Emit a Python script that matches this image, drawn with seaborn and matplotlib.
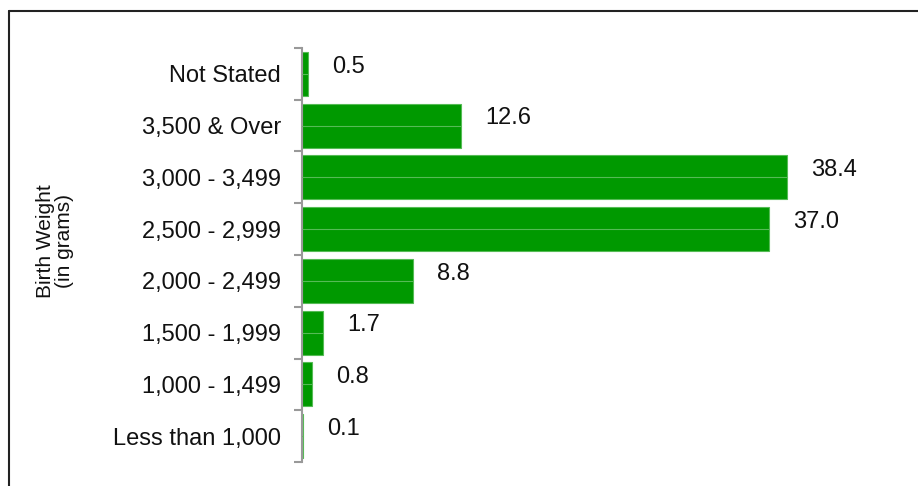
import numpy as np
import pandas as pd
import matplotlib
matplotlib.use("Agg")
import matplotlib.pyplot as plt
import seaborn as sns
from matplotlib.lines import Line2D

categories = ["Not Stated", "3,500 & Over", "3,000 - 3,499", "2,500 - 2,999",
              "2,000 - 2,499", "1,500 - 1,999", "1,000 - 1,499", "Less than 1,000"]
percents = [0.5, 12.6, 38.4, 37.0, 8.8, 1.7, 0.8, 0.1]
labels = ["0.5", "12.6", "38.4", "37.0", "8.8", "1.7", "0.8", "0.1"]

df = pd.DataFrame({"weight": categories, "pct": percents})

sns.set_style("white")
plt.rcParams['font.family'] = ['Liberation Sans', 'DejaVu Sans']

fig = plt.figure(figsize=(9.18, 4.86), dpi=100)
ax = fig.add_axes([302 / 918, 1 - 462 / 486, 568 / 918, 414 / 486])

sns.barplot(data=df, x="pct", y="weight", orient="h", color="#009900",
            saturation=1, width=0.85, edgecolor="#55bb55", linewidth=0.8, ax=ax)

# light line through the middle of each bar
ax.hlines(np.arange(len(categories)), 0, percents, color="#55bb55", lw=0.8, zorder=3)

for i, (v, s) in enumerate(zip(percents, labels)):
    ax.annotate(s, (v, i - 0.14), xytext=(24, 0), textcoords="offset pixels",
                ha="left", va="center", fontsize=17, color="#111111")

ax.set_xlim(0, 45)
ax.set_ylim(len(categories) - 0.5, -0.5)
ax.set_xlabel("")
ax.set_ylabel("")
ax.set_xticks([])
for sp in ["top", "right", "bottom"]:
    ax.spines[sp].set_visible(False)
ax.spines["left"].set_color("#999999")
ax.spines["left"].set_linewidth(1.5)

ax.set_yticks(np.arange(len(categories)))
ax.set_yticklabels(categories, fontsize=17, color="#111111")
ax.set_yticks(np.arange(-0.5, len(categories)), minor=True)
ax.tick_params(axis="y", which="major", length=0, pad=15)
ax.tick_params(axis="y", which="minor", left=True, length=6, width=1.5,
               color="#999999", direction="out")

fig.text(55 / 918, 1 - 241 / 486, "Birth Weight\n(in grams)", rotation=90,
         ha="center", va="center", fontsize=15, color="#111111", linespacing=1.0)

# partial frame, left and top edges
fig.add_artist(Line2D([9 / 918, 9 / 918], [0, 1 - 11 / 486], transform=fig.transFigure,
                      color="#222222", lw=1.5))
fig.add_artist(Line2D([9 / 918, 1], [1 - 11 / 486, 1 - 11 / 486], transform=fig.transFigure,
                      color="#222222", lw=1.5))

fig.savefig("out.png", dpi=100)
